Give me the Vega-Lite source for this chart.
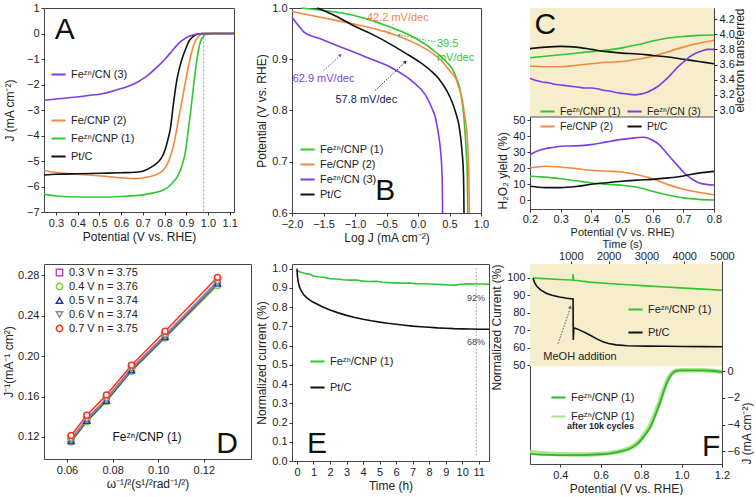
{
  "$schema": "https://vega.github.io/schema/vega-lite/v6.json",
  "padding": {"left": 2, "top": 1, "right": 0, "bottom": 0},
  "background": "white",
  "config": {
    "font": "Liberation Sans",
    "view": {"stroke": "#444", "strokeWidth": 1},
    "axis": {"grid": false, "domain": false, "tickSize": 3, "tickCount": 100, "tickColor": "#333", "labelFontSize": 11, "labelColor": "#222", "titleFontSize": 12, "titleFontWeight": "normal", "titleColor": "#222", "labelPadding": 2, "titlePadding": 3, "labelFlush": false, "labelOverlap": false, "labelBound": false, "labelFont": "Liberation Sans", "titleFont": "Liberation Sans"},
    "legend": {"labelFontSize": 11, "labelColor": "#222", "symbolType": "stroke", "symbolStrokeWidth": 2, "symbolSize": 200, "padding": 0, "rowPadding": 3, "labelFont": "Liberation Sans"},
    "text": {"font": "Liberation Sans"}
  },
  "datasets": {
    "A1": [
      {"x":0.245,"y":-2.62,"s":"Feᶻⁿ/CN (3)"},{"x":0.3,"y":-2.57,"s":"Feᶻⁿ/CN (3)"},{"x":0.358,"y":-2.52,"s":"Feᶻⁿ/CN (3)"},{"x":0.45,"y":-2.43,"s":"Feᶻⁿ/CN (3)"},{"x":0.512,"y":-2.36,"s":"Feᶻⁿ/CN (3)"},{"x":0.55,"y":-2.29,"s":"Feᶻⁿ/CN (3)"},{"x":0.589,"y":-2.19,"s":"Feᶻⁿ/CN (3)"},{"x":0.63,"y":-2.08,"s":"Feᶻⁿ/CN (3)"},{"x":0.666,"y":-1.95,"s":"Feᶻⁿ/CN (3)"},{"x":0.69,"y":-1.83,"s":"Feᶻⁿ/CN (3)"},{"x":0.712,"y":-1.71,"s":"Feᶻⁿ/CN (3)"},{"x":0.735,"y":-1.55,"s":"Feᶻⁿ/CN (3)"},{"x":0.758,"y":-1.38,"s":"Feᶻⁿ/CN (3)"},{"x":0.78,"y":-1.2,"s":"Feᶻⁿ/CN (3)"},{"x":0.804,"y":-0.99,"s":"Feᶻⁿ/CN (3)"},{"x":0.827,"y":-0.76,"s":"Feᶻⁿ/CN (3)"},{"x":0.85,"y":-0.53,"s":"Feᶻⁿ/CN (3)"},{"x":0.87,"y":-0.35,"s":"Feᶻⁿ/CN (3)"},{"x":0.888,"y":-0.23,"s":"Feᶻⁿ/CN (3)"},{"x":0.91,"y":-0.12,"s":"Feᶻⁿ/CN (3)"},{"x":0.927,"y":-0.07,"s":"Feᶻⁿ/CN (3)"},{"x":0.95,"y":-0.02,"s":"Feᶻⁿ/CN (3)"},{"x":0.973,"y":0,"s":"Feᶻⁿ/CN (3)"},{"x":1.12,"y":0,"s":"Feᶻⁿ/CN (3)"}
    ],
    "A2": [
      {"x":0.245,"y":-6.3,"s":"Feᶻⁿ/CNP (1)"},{"x":0.3,"y":-6.37,"s":"Feᶻⁿ/CNP (1)"},{"x":0.4,"y":-6.41,"s":"Feᶻⁿ/CNP (1)"},{"x":0.5,"y":-6.41,"s":"Feᶻⁿ/CNP (1)"},{"x":0.6,"y":-6.39,"s":"Feᶻⁿ/CNP (1)"},{"x":0.7,"y":-6.33,"s":"Feᶻⁿ/CNP (1)"},{"x":0.75,"y":-6.25,"s":"Feᶻⁿ/CNP (1)"},{"x":0.8,"y":-6.12,"s":"Feᶻⁿ/CNP (1)"},{"x":0.82,"y":-6.0,"s":"Feᶻⁿ/CNP (1)"},{"x":0.84,"y":-5.82,"s":"Feᶻⁿ/CNP (1)"},{"x":0.86,"y":-5.6,"s":"Feᶻⁿ/CNP (1)"},{"x":0.88,"y":-5.2,"s":"Feᶻⁿ/CNP (1)"},{"x":0.896,"y":-4.65,"s":"Feᶻⁿ/CNP (1)"},{"x":0.91,"y":-3.75,"s":"Feᶻⁿ/CNP (1)"},{"x":0.92,"y":-3.08,"s":"Feᶻⁿ/CNP (1)"},{"x":0.934,"y":-2.03,"s":"Feᶻⁿ/CNP (1)"},{"x":0.95,"y":-0.99,"s":"Feᶻⁿ/CNP (1)"},{"x":0.965,"y":-0.33,"s":"Feᶻⁿ/CNP (1)"},{"x":0.98,"y":-0.1,"s":"Feᶻⁿ/CNP (1)"},{"x":0.995,"y":-0.02,"s":"Feᶻⁿ/CNP (1)"},{"x":1.03,"y":0,"s":"Feᶻⁿ/CNP (1)"},{"x":1.12,"y":0,"s":"Feᶻⁿ/CNP (1)"},
      {"x":0.245,"y":-5.37,"s":"Fe/CNP (2)"},{"x":0.3,"y":-5.45,"s":"Fe/CNP (2)"},{"x":0.36,"y":-5.5,"s":"Fe/CNP (2)"},{"x":0.45,"y":-5.55,"s":"Fe/CNP (2)"},{"x":0.51,"y":-5.59,"s":"Fe/CNP (2)"},{"x":0.6,"y":-5.66,"s":"Fe/CNP (2)"},{"x":0.666,"y":-5.69,"s":"Fe/CNP (2)"},{"x":0.7,"y":-5.66,"s":"Fe/CNP (2)"},{"x":0.743,"y":-5.59,"s":"Fe/CNP (2)"},{"x":0.77,"y":-5.5,"s":"Fe/CNP (2)"},{"x":0.789,"y":-5.41,"s":"Fe/CNP (2)"},{"x":0.805,"y":-5.24,"s":"Fe/CNP (2)"},{"x":0.82,"y":-4.98,"s":"Fe/CNP (2)"},{"x":0.842,"y":-4.38,"s":"Fe/CNP (2)"},{"x":0.865,"y":-3.34,"s":"Fe/CNP (2)"},{"x":0.888,"y":-2.29,"s":"Fe/CNP (2)"},{"x":0.911,"y":-1.25,"s":"Fe/CNP (2)"},{"x":0.934,"y":-0.46,"s":"Fe/CNP (2)"},{"x":0.957,"y":-0.11,"s":"Fe/CNP (2)"},{"x":0.98,"y":-0.01,"s":"Fe/CNP (2)"},{"x":1.0,"y":0,"s":"Fe/CNP (2)"},{"x":1.12,"y":0,"s":"Fe/CNP (2)"},
      {"x":0.245,"y":-5.55,"s":"Pt/C"},{"x":0.3,"y":-5.52,"s":"Pt/C"},{"x":0.4,"y":-5.5,"s":"Pt/C"},{"x":0.512,"y":-5.48,"s":"Pt/C"},{"x":0.6,"y":-5.46,"s":"Pt/C"},{"x":0.666,"y":-5.44,"s":"Pt/C"},{"x":0.7,"y":-5.4,"s":"Pt/C"},{"x":0.727,"y":-5.3,"s":"Pt/C"},{"x":0.75,"y":-5.18,"s":"Pt/C"},{"x":0.773,"y":-5.02,"s":"Pt/C"},{"x":0.79,"y":-4.82,"s":"Pt/C"},{"x":0.804,"y":-4.52,"s":"Pt/C"},{"x":0.815,"y":-4.18,"s":"Pt/C"},{"x":0.827,"y":-3.73,"s":"Pt/C"},{"x":0.842,"y":-2.69,"s":"Pt/C"},{"x":0.858,"y":-1.77,"s":"Pt/C"},{"x":0.87,"y":-1.32,"s":"Pt/C"},{"x":0.881,"y":-0.99,"s":"Pt/C"},{"x":0.9,"y":-0.55,"s":"Pt/C"},{"x":0.911,"y":-0.33,"s":"Pt/C"},{"x":0.93,"y":-0.13,"s":"Pt/C"},{"x":0.942,"y":-0.06,"s":"Pt/C"},{"x":0.973,"y":0,"s":"Pt/C"},{"x":1.12,"y":0,"s":"Pt/C"}
    ],
    "B": [
      {"x":-1.85,"y":1.0,"s":"Feᶻⁿ/CNP (1)"},{"x":-1.5,"y":0.995,"s":"Feᶻⁿ/CNP (1)"},{"x":-1.03,"y":0.986,"s":"Feᶻⁿ/CNP (1)"},{"x":-0.6,"y":0.97,"s":"Feᶻⁿ/CNP (1)"},{"x":-0.24,"y":0.953,"s":"Feᶻⁿ/CNP (1)"},{"x":0.0,"y":0.938,"s":"Feᶻⁿ/CNP (1)"},{"x":0.28,"y":0.914,"s":"Feᶻⁿ/CNP (1)"},{"x":0.45,"y":0.895,"s":"Feᶻⁿ/CNP (1)"},{"x":0.54,"y":0.882,"s":"Feᶻⁿ/CNP (1)"},{"x":0.62,"y":0.86,"s":"Feᶻⁿ/CNP (1)"},{"x":0.66,"y":0.845,"s":"Feᶻⁿ/CNP (1)"},{"x":0.7,"y":0.817,"s":"Feᶻⁿ/CNP (1)"},{"x":0.73,"y":0.785,"s":"Feᶻⁿ/CNP (1)"},{"x":0.75,"y":0.752,"s":"Feᶻⁿ/CNP (1)"},{"x":0.77,"y":0.71,"s":"Feᶻⁿ/CNP (1)"},{"x":0.78,"y":0.686,"s":"Feᶻⁿ/CNP (1)"},{"x":0.785,"y":0.65,"s":"Feᶻⁿ/CNP (1)"},{"x":0.79,"y":0.6,"s":"Feᶻⁿ/CNP (1)"},
      {"x":-2.0,"y":0.993,"s":"Fe/CNP (2)"},{"x":-1.55,"y":0.982,"s":"Fe/CNP (2)"},{"x":-1.03,"y":0.969,"s":"Fe/CNP (2)"},{"x":-0.5,"y":0.953,"s":"Fe/CNP (2)"},{"x":0.02,"y":0.927,"s":"Fe/CNP (2)"},{"x":0.25,"y":0.91,"s":"Fe/CNP (2)"},{"x":0.39,"y":0.895,"s":"Fe/CNP (2)"},{"x":0.5,"y":0.878,"s":"Fe/CNP (2)"},{"x":0.6,"y":0.862,"s":"Fe/CNP (2)"},{"x":0.66,"y":0.84,"s":"Fe/CNP (2)"},{"x":0.7,"y":0.823,"s":"Fe/CNP (2)"},{"x":0.74,"y":0.79,"s":"Fe/CNP (2)"},{"x":0.78,"y":0.752,"s":"Fe/CNP (2)"},{"x":0.8,"y":0.7,"s":"Fe/CNP (2)"},{"x":0.81,"y":0.65,"s":"Fe/CNP (2)"},{"x":0.815,"y":0.6,"s":"Fe/CNP (2)"},
      {"x":-2.0,"y":0.982,"s":"Feᶻⁿ/CN (3)"},{"x":-1.9,"y":0.966,"s":"Feᶻⁿ/CN (3)"},{"x":-1.81,"y":0.953,"s":"Feᶻⁿ/CN (3)"},{"x":-1.55,"y":0.94,"s":"Feᶻⁿ/CN (3)"},{"x":-1.29,"y":0.927,"s":"Feᶻⁿ/CN (3)"},{"x":-1.0,"y":0.913,"s":"Feᶻⁿ/CN (3)"},{"x":-0.76,"y":0.901,"s":"Feᶻⁿ/CN (3)"},{"x":-0.4,"y":0.882,"s":"Feᶻⁿ/CN (3)"},{"x":-0.08,"y":0.856,"s":"Feᶻⁿ/CN (3)"},{"x":0.12,"y":0.83,"s":"Feᶻⁿ/CN (3)"},{"x":0.22,"y":0.805,"s":"Feᶻⁿ/CN (3)"},{"x":0.28,"y":0.784,"s":"Feᶻⁿ/CN (3)"},{"x":0.33,"y":0.75,"s":"Feᶻⁿ/CN (3)"},{"x":0.36,"y":0.719,"s":"Feᶻⁿ/CN (3)"},{"x":0.38,"y":0.68,"s":"Feᶻⁿ/CN (3)"},{"x":0.386,"y":0.654,"s":"Feᶻⁿ/CN (3)"},{"x":0.39,"y":0.6,"s":"Feᶻⁿ/CN (3)"},
      {"x":-1.6,"y":1.0,"s":"Pt/C"},{"x":-1.3,"y":0.984,"s":"Pt/C"},{"x":-1.03,"y":0.966,"s":"Pt/C"},{"x":-0.75,"y":0.95,"s":"Pt/C"},{"x":-0.5,"y":0.934,"s":"Pt/C"},{"x":-0.2,"y":0.912,"s":"Pt/C"},{"x":0.02,"y":0.895,"s":"Pt/C"},{"x":0.2,"y":0.878,"s":"Pt/C"},{"x":0.33,"y":0.862,"s":"Pt/C"},{"x":0.45,"y":0.84,"s":"Pt/C"},{"x":0.54,"y":0.817,"s":"Pt/C"},{"x":0.6,"y":0.795,"s":"Pt/C"},{"x":0.65,"y":0.771,"s":"Pt/C"},{"x":0.7,"y":0.719,"s":"Pt/C"},{"x":0.72,"y":0.68,"s":"Pt/C"},{"x":0.727,"y":0.64,"s":"Pt/C"},{"x":0.73,"y":0.6,"s":"Pt/C"}
    ],
    "Cu": [
      {"x":0.2,"y":3.69,"s":"Feᶻⁿ/CNP (1)"},{"x":0.25,"y":3.71,"s":"Feᶻⁿ/CNP (1)"},{"x":0.3,"y":3.73,"s":"Feᶻⁿ/CNP (1)"},{"x":0.35,"y":3.75,"s":"Feᶻⁿ/CNP (1)"},{"x":0.4,"y":3.77,"s":"Feᶻⁿ/CNP (1)"},{"x":0.45,"y":3.79,"s":"Feᶻⁿ/CNP (1)"},{"x":0.5,"y":3.82,"s":"Feᶻⁿ/CNP (1)"},{"x":0.55,"y":3.86,"s":"Feᶻⁿ/CNP (1)"},{"x":0.6,"y":3.91,"s":"Feᶻⁿ/CNP (1)"},{"x":0.65,"y":3.95,"s":"Feᶻⁿ/CNP (1)"},{"x":0.7,"y":3.97,"s":"Feᶻⁿ/CNP (1)"},{"x":0.75,"y":3.985,"s":"Feᶻⁿ/CNP (1)"},{"x":0.8,"y":3.99,"s":"Feᶻⁿ/CNP (1)"},
      {"x":0.2,"y":3.58,"s":"Fe/CNP (2)"},{"x":0.25,"y":3.57,"s":"Fe/CNP (2)"},{"x":0.3,"y":3.57,"s":"Fe/CNP (2)"},{"x":0.35,"y":3.59,"s":"Fe/CNP (2)"},{"x":0.4,"y":3.61,"s":"Fe/CNP (2)"},{"x":0.45,"y":3.63,"s":"Fe/CNP (2)"},{"x":0.5,"y":3.64,"s":"Fe/CNP (2)"},{"x":0.55,"y":3.67,"s":"Fe/CNP (2)"},{"x":0.6,"y":3.71,"s":"Fe/CNP (2)"},{"x":0.65,"y":3.77,"s":"Fe/CNP (2)"},{"x":0.7,"y":3.83,"s":"Fe/CNP (2)"},{"x":0.75,"y":3.88,"s":"Fe/CNP (2)"},{"x":0.8,"y":3.92,"s":"Fe/CNP (2)"},
      {"x":0.2,"y":3.81,"s":"Pt/C"},{"x":0.25,"y":3.83,"s":"Pt/C"},{"x":0.3,"y":3.84,"s":"Pt/C"},{"x":0.35,"y":3.83,"s":"Pt/C"},{"x":0.4,"y":3.8,"s":"Pt/C"},{"x":0.45,"y":3.77,"s":"Pt/C"},{"x":0.5,"y":3.75,"s":"Pt/C"},{"x":0.55,"y":3.74,"s":"Pt/C"},{"x":0.6,"y":3.72,"s":"Pt/C"},{"x":0.65,"y":3.7,"s":"Pt/C"},{"x":0.7,"y":3.67,"s":"Pt/C"},{"x":0.75,"y":3.64,"s":"Pt/C"},{"x":0.8,"y":3.61,"s":"Pt/C"},
      {"x":0.2,"y":3.42,"s":"Feᶻⁿ/CN (3)"},{"x":0.22,"y":3.39,"s":"Feᶻⁿ/CN (3)"},{"x":0.24,"y":3.37,"s":"Feᶻⁿ/CN (3)"},{"x":0.26,"y":3.36,"s":"Feᶻⁿ/CN (3)"},{"x":0.28,"y":3.34,"s":"Feᶻⁿ/CN (3)"},{"x":0.3,"y":3.33,"s":"Feᶻⁿ/CN (3)"},{"x":0.32,"y":3.32,"s":"Feᶻⁿ/CN (3)"},{"x":0.34,"y":3.31,"s":"Feᶻⁿ/CN (3)"},{"x":0.36,"y":3.3,"s":"Feᶻⁿ/CN (3)"},{"x":0.38,"y":3.29,"s":"Feᶻⁿ/CN (3)"},{"x":0.4,"y":3.29,"s":"Feᶻⁿ/CN (3)"},{"x":0.42,"y":3.28,"s":"Feᶻⁿ/CN (3)"},{"x":0.44,"y":3.26,"s":"Feᶻⁿ/CN (3)"},{"x":0.46,"y":3.25,"s":"Feᶻⁿ/CN (3)"},{"x":0.48,"y":3.23,"s":"Feᶻⁿ/CN (3)"},{"x":0.5,"y":3.22,"s":"Feᶻⁿ/CN (3)"},{"x":0.52,"y":3.21,"s":"Feᶻⁿ/CN (3)"},{"x":0.54,"y":3.2,"s":"Feᶻⁿ/CN (3)"},{"x":0.56,"y":3.21,"s":"Feᶻⁿ/CN (3)"},{"x":0.58,"y":3.23,"s":"Feᶻⁿ/CN (3)"},{"x":0.6,"y":3.27,"s":"Feᶻⁿ/CN (3)"},{"x":0.62,"y":3.32,"s":"Feᶻⁿ/CN (3)"},{"x":0.64,"y":3.39,"s":"Feᶻⁿ/CN (3)"},{"x":0.66,"y":3.47,"s":"Feᶻⁿ/CN (3)"},{"x":0.68,"y":3.56,"s":"Feᶻⁿ/CN (3)"},{"x":0.7,"y":3.63,"s":"Feᶻⁿ/CN (3)"},{"x":0.72,"y":3.7,"s":"Feᶻⁿ/CN (3)"},{"x":0.74,"y":3.75,"s":"Feᶻⁿ/CN (3)"},{"x":0.76,"y":3.78,"s":"Feᶻⁿ/CN (3)"},{"x":0.78,"y":3.8,"s":"Feᶻⁿ/CN (3)"},{"x":0.8,"y":3.8,"s":"Feᶻⁿ/CN (3)"}
    ],
    "Cl": [
      {"x":0.2,"y":28.5,"s":"Feᶻⁿ/CN (3)"},{"x":0.22,"y":30.5,"s":"Feᶻⁿ/CN (3)"},{"x":0.25,"y":32.3,"s":"Feᶻⁿ/CN (3)"},{"x":0.28,"y":33.2,"s":"Feᶻⁿ/CN (3)"},{"x":0.3,"y":33.8,"s":"Feᶻⁿ/CN (3)"},{"x":0.35,"y":34.0,"s":"Feᶻⁿ/CN (3)"},{"x":0.4,"y":34.8,"s":"Feᶻⁿ/CN (3)"},{"x":0.45,"y":36.5,"s":"Feᶻⁿ/CN (3)"},{"x":0.5,"y":38.1,"s":"Feᶻⁿ/CN (3)"},{"x":0.55,"y":39.2,"s":"Feᶻⁿ/CN (3)"},{"x":0.57,"y":39.4,"s":"Feᶻⁿ/CN (3)"},{"x":0.6,"y":37.5,"s":"Feᶻⁿ/CN (3)"},{"x":0.62,"y":35.0,"s":"Feᶻⁿ/CN (3)"},{"x":0.65,"y":28.5,"s":"Feᶻⁿ/CN (3)"},{"x":0.68,"y":22.0,"s":"Feᶻⁿ/CN (3)"},{"x":0.7,"y":17.7,"s":"Feᶻⁿ/CN (3)"},{"x":0.73,"y":13.0,"s":"Feᶻⁿ/CN (3)"},{"x":0.75,"y":11.0,"s":"Feᶻⁿ/CN (3)"},{"x":0.78,"y":9.8,"s":"Feᶻⁿ/CN (3)"},{"x":0.8,"y":9.6,"s":"Feᶻⁿ/CN (3)"},
      {"x":0.2,"y":20.2,"s":"Fe/CNP (2)"},{"x":0.25,"y":21.3,"s":"Fe/CNP (2)"},{"x":0.3,"y":20.8,"s":"Fe/CNP (2)"},{"x":0.35,"y":19.8,"s":"Fe/CNP (2)"},{"x":0.4,"y":18.8,"s":"Fe/CNP (2)"},{"x":0.45,"y":18.2,"s":"Fe/CNP (2)"},{"x":0.5,"y":17.7,"s":"Fe/CNP (2)"},{"x":0.55,"y":16.0,"s":"Fe/CNP (2)"},{"x":0.6,"y":13.5,"s":"Fe/CNP (2)"},{"x":0.65,"y":9.8,"s":"Fe/CNP (2)"},{"x":0.7,"y":6.9,"s":"Fe/CNP (2)"},{"x":0.75,"y":5.0,"s":"Fe/CNP (2)"},{"x":0.8,"y":3.5,"s":"Fe/CNP (2)"},
      {"x":0.2,"y":15.0,"s":"Feᶻⁿ/CNP (1)"},{"x":0.25,"y":14.5,"s":"Feᶻⁿ/CNP (1)"},{"x":0.3,"y":13.5,"s":"Feᶻⁿ/CNP (1)"},{"x":0.35,"y":12.2,"s":"Feᶻⁿ/CNP (1)"},{"x":0.4,"y":10.8,"s":"Feᶻⁿ/CNP (1)"},{"x":0.45,"y":10.0,"s":"Feᶻⁿ/CNP (1)"},{"x":0.5,"y":9.4,"s":"Feᶻⁿ/CNP (1)"},{"x":0.55,"y":8.1,"s":"Feᶻⁿ/CNP (1)"},{"x":0.6,"y":5.6,"s":"Feᶻⁿ/CNP (1)"},{"x":0.65,"y":3.3,"s":"Feᶻⁿ/CNP (1)"},{"x":0.7,"y":1.5,"s":"Feᶻⁿ/CNP (1)"},{"x":0.75,"y":0.6,"s":"Feᶻⁿ/CNP (1)"},{"x":0.8,"y":0.2,"s":"Feᶻⁿ/CNP (1)"},
      {"x":0.2,"y":8.75,"s":"Pt/C"},{"x":0.25,"y":7.9,"s":"Pt/C"},{"x":0.3,"y":7.9,"s":"Pt/C"},{"x":0.35,"y":8.6,"s":"Pt/C"},{"x":0.4,"y":10.0,"s":"Pt/C"},{"x":0.45,"y":11.0,"s":"Pt/C"},{"x":0.5,"y":11.9,"s":"Pt/C"},{"x":0.55,"y":12.6,"s":"Pt/C"},{"x":0.6,"y":13.1,"s":"Pt/C"},{"x":0.65,"y":14.0,"s":"Pt/C"},{"x":0.7,"y":15.2,"s":"Pt/C"},{"x":0.75,"y":17.0,"s":"Pt/C"},{"x":0.8,"y":18.1,"s":"Pt/C"}
    ],
    "D": [
      {"x":0.0618,"y":0.118,"s":"0.3 V   n = 3.75"},{"x":0.0687,"y":0.138,"s":"0.3 V   n = 3.75"},{"x":0.0773,"y":0.158,"s":"0.3 V   n = 3.75"},{"x":0.0883,"y":0.188,"s":"0.3 V   n = 3.75"},{"x":0.103,"y":0.221,"s":"0.3 V   n = 3.75"},{"x":0.126,"y":0.274,"s":"0.3 V   n = 3.75"},
      {"x":0.0618,"y":0.115,"s":"0.4 V   n = 3.76"},{"x":0.0687,"y":0.135,"s":"0.4 V   n = 3.76"},{"x":0.0773,"y":0.155,"s":"0.4 V   n = 3.76"},{"x":0.0883,"y":0.185,"s":"0.4 V   n = 3.76"},{"x":0.103,"y":0.218,"s":"0.4 V   n = 3.76"},{"x":0.126,"y":0.27,"s":"0.4 V   n = 3.76"},
      {"x":0.0618,"y":0.116,"s":"0.5 V   n = 3.74"},{"x":0.0687,"y":0.136,"s":"0.5 V   n = 3.74"},{"x":0.0773,"y":0.156,"s":"0.5 V   n = 3.74"},{"x":0.0883,"y":0.186,"s":"0.5 V   n = 3.74"},{"x":0.103,"y":0.219,"s":"0.5 V   n = 3.74"},{"x":0.126,"y":0.272,"s":"0.5 V   n = 3.74"},
      {"x":0.0618,"y":0.117,"s":"0.6 V   n = 3.74"},{"x":0.0687,"y":0.137,"s":"0.6 V   n = 3.74"},{"x":0.0773,"y":0.157,"s":"0.6 V   n = 3.74"},{"x":0.0883,"y":0.187,"s":"0.6 V   n = 3.74"},{"x":0.103,"y":0.22,"s":"0.6 V   n = 3.74"},{"x":0.126,"y":0.273,"s":"0.6 V   n = 3.74"},
      {"x":0.0618,"y":0.1215,"s":"0.7 V   n = 3.75"},{"x":0.0687,"y":0.1415,"s":"0.7 V   n = 3.75"},{"x":0.0773,"y":0.1615,"s":"0.7 V   n = 3.75"},{"x":0.0883,"y":0.191,"s":"0.7 V   n = 3.75"},{"x":0.103,"y":0.2247,"s":"0.7 V   n = 3.75"},{"x":0.126,"y":0.278,"s":"0.7 V   n = 3.75"}
    ],
    "E": [
      {"x":0,"y":0.99,"s":"Feᶻⁿ/CNP (1)"},{"x":0.2,"y":0.982,"s":"Feᶻⁿ/CNP (1)"},{"x":0.5,"y":0.975,"s":"Feᶻⁿ/CNP (1)"},{"x":0.8,"y":0.97,"s":"Feᶻⁿ/CNP (1)"},{"x":1.0,"y":0.962,"s":"Feᶻⁿ/CNP (1)"},{"x":1.3,"y":0.958,"s":"Feᶻⁿ/CNP (1)"},{"x":1.6,"y":0.955,"s":"Feᶻⁿ/CNP (1)"},{"x":2.0,"y":0.948,"s":"Feᶻⁿ/CNP (1)"},{"x":2.4,"y":0.946,"s":"Feᶻⁿ/CNP (1)"},{"x":2.8,"y":0.942,"s":"Feᶻⁿ/CNP (1)"},{"x":3.2,"y":0.94,"s":"Feᶻⁿ/CNP (1)"},{"x":3.6,"y":0.941,"s":"Feᶻⁿ/CNP (1)"},{"x":4.0,"y":0.935,"s":"Feᶻⁿ/CNP (1)"},{"x":4.4,"y":0.933,"s":"Feᶻⁿ/CNP (1)"},{"x":4.8,"y":0.934,"s":"Feᶻⁿ/CNP (1)"},{"x":5.2,"y":0.929,"s":"Feᶻⁿ/CNP (1)"},{"x":5.6,"y":0.927,"s":"Feᶻⁿ/CNP (1)"},{"x":6.0,"y":0.926,"s":"Feᶻⁿ/CNP (1)"},{"x":6.4,"y":0.924,"s":"Feᶻⁿ/CNP (1)"},{"x":6.8,"y":0.925,"s":"Feᶻⁿ/CNP (1)"},{"x":7.2,"y":0.922,"s":"Feᶻⁿ/CNP (1)"},{"x":7.6,"y":0.921,"s":"Feᶻⁿ/CNP (1)"},{"x":8.0,"y":0.92,"s":"Feᶻⁿ/CNP (1)"},{"x":8.4,"y":0.919,"s":"Feᶻⁿ/CNP (1)"},{"x":8.8,"y":0.917,"s":"Feᶻⁿ/CNP (1)"},{"x":9.2,"y":0.915,"s":"Feᶻⁿ/CNP (1)"},{"x":9.6,"y":0.914,"s":"Feᶻⁿ/CNP (1)"},{"x":10.0,"y":0.92,"s":"Feᶻⁿ/CNP (1)"},{"x":10.4,"y":0.921,"s":"Feᶻⁿ/CNP (1)"},{"x":10.8,"y":0.92,"s":"Feᶻⁿ/CNP (1)"},{"x":11.2,"y":0.92,"s":"Feᶻⁿ/CNP (1)"},{"x":11.62,"y":0.918,"s":"Feᶻⁿ/CNP (1)"},
      {"x":0,"y":1.0,"s":"Pt/C"},{"x":0.03,"y":0.96,"s":"Pt/C"},{"x":0.08,"y":0.93,"s":"Pt/C"},{"x":0.15,"y":0.905,"s":"Pt/C"},{"x":0.25,"y":0.885,"s":"Pt/C"},{"x":0.4,"y":0.865,"s":"Pt/C"},{"x":0.6,"y":0.848,"s":"Pt/C"},{"x":0.8,"y":0.835,"s":"Pt/C"},{"x":1.0,"y":0.825,"s":"Pt/C"},{"x":1.5,"y":0.803,"s":"Pt/C"},{"x":2.0,"y":0.785,"s":"Pt/C"},{"x":2.5,"y":0.77,"s":"Pt/C"},{"x":3.0,"y":0.757,"s":"Pt/C"},{"x":3.5,"y":0.746,"s":"Pt/C"},{"x":4.0,"y":0.737,"s":"Pt/C"},{"x":4.5,"y":0.729,"s":"Pt/C"},{"x":5.0,"y":0.722,"s":"Pt/C"},{"x":5.5,"y":0.716,"s":"Pt/C"},{"x":6.0,"y":0.711,"s":"Pt/C"},{"x":6.5,"y":0.706,"s":"Pt/C"},{"x":7.0,"y":0.701,"s":"Pt/C"},{"x":7.5,"y":0.698,"s":"Pt/C"},{"x":8.0,"y":0.695,"s":"Pt/C"},{"x":8.5,"y":0.692,"s":"Pt/C"},{"x":9.0,"y":0.69,"s":"Pt/C"},{"x":9.5,"y":0.688,"s":"Pt/C"},{"x":10.0,"y":0.687,"s":"Pt/C"},{"x":10.5,"y":0.686,"s":"Pt/C"},{"x":11.0,"y":0.685,"s":"Pt/C"},{"x":11.62,"y":0.685,"s":"Pt/C"}
    ],
    "Fu": [
      {"t":0,"y":100,"s":"Feᶻⁿ/CNP (1)"},{"t":300,"y":99.6,"s":"Feᶻⁿ/CNP (1)"},{"t":700,"y":99.1,"s":"Feᶻⁿ/CNP (1)"},{"t":1000,"y":98.8,"s":"Feᶻⁿ/CNP (1)"},{"t":1050,"y":98.7,"s":"Feᶻⁿ/CNP (1)"},{"t":1060,"y":102.3,"s":"Feᶻⁿ/CNP (1)"},{"t":1075,"y":98.8,"s":"Feᶻⁿ/CNP (1)"},{"t":1100,"y":98.7,"s":"Feᶻⁿ/CNP (1)"},{"t":1500,"y":97.6,"s":"Feᶻⁿ/CNP (1)"},{"t":2000,"y":96.8,"s":"Feᶻⁿ/CNP (1)"},{"t":2500,"y":96.1,"s":"Feᶻⁿ/CNP (1)"},{"t":3000,"y":95.5,"s":"Feᶻⁿ/CNP (1)"},{"t":3500,"y":94.8,"s":"Feᶻⁿ/CNP (1)"},{"t":4000,"y":94.2,"s":"Feᶻⁿ/CNP (1)"},{"t":4500,"y":93.6,"s":"Feᶻⁿ/CNP (1)"},{"t":5000,"y":93.0,"s":"Feᶻⁿ/CNP (1)"},
      {"t":0,"y":100,"s":"Pt/C"},{"t":40,"y":97.5,"s":"Pt/C"},{"t":100,"y":95.2,"s":"Pt/C"},{"t":200,"y":93.2,"s":"Pt/C"},{"t":350,"y":91.3,"s":"Pt/C"},{"t":500,"y":90.1,"s":"Pt/C"},{"t":700,"y":89.1,"s":"Pt/C"},{"t":900,"y":88.4,"s":"Pt/C"},{"t":1060,"y":88.0,"s":"Pt/C"},{"t":1065,"y":64.5,"s":"Pt/C"},{"t":1080,"y":71.5,"s":"Pt/C"},{"t":1150,"y":71.0,"s":"Pt/C"},{"t":1250,"y":70.0,"s":"Pt/C"},{"t":1400,"y":68.5,"s":"Pt/C"},{"t":1550,"y":66.8,"s":"Pt/C"},{"t":1700,"y":65.0,"s":"Pt/C"},{"t":1850,"y":63.5,"s":"Pt/C"},{"t":2000,"y":62.5,"s":"Pt/C"},{"t":2200,"y":61.7,"s":"Pt/C"},{"t":2500,"y":61.2,"s":"Pt/C"},{"t":3000,"y":61.0,"s":"Pt/C"},{"t":3500,"y":60.9,"s":"Pt/C"},{"t":4000,"y":60.8,"s":"Pt/C"},{"t":4500,"y":60.7,"s":"Pt/C"},{"t":5000,"y":60.6,"s":"Pt/C"}
    ],
    "Fl": [
      {"x":0.25,"y":-6.05,"s":"Feᶻⁿ/CNP (1) after"},{"x":0.3,"y":-6.15,"s":"Feᶻⁿ/CNP (1) after"},{"x":0.4,"y":-6.22,"s":"Feᶻⁿ/CNP (1) after"},{"x":0.5,"y":-6.24,"s":"Feᶻⁿ/CNP (1) after"},{"x":0.6,"y":-6.2,"s":"Feᶻⁿ/CNP (1) after"},{"x":0.65,"y":-6.12,"s":"Feᶻⁿ/CNP (1) after"},{"x":0.7,"y":-5.98,"s":"Feᶻⁿ/CNP (1) after"},{"x":0.75,"y":-5.72,"s":"Feᶻⁿ/CNP (1) after"},{"x":0.78,"y":-5.4,"s":"Feᶻⁿ/CNP (1) after"},{"x":0.8,"y":-5.08,"s":"Feᶻⁿ/CNP (1) after"},{"x":0.82,"y":-4.65,"s":"Feᶻⁿ/CNP (1) after"},{"x":0.845,"y":-4.05,"s":"Feᶻⁿ/CNP (1) after"},{"x":0.87,"y":-3.15,"s":"Feᶻⁿ/CNP (1) after"},{"x":0.895,"y":-2.15,"s":"Feᶻⁿ/CNP (1) after"},{"x":0.91,"y":-1.45,"s":"Feᶻⁿ/CNP (1) after"},{"x":0.93,"y":-0.7,"s":"Feᶻⁿ/CNP (1) after"},{"x":0.945,"y":-0.3,"s":"Feᶻⁿ/CNP (1) after"},{"x":0.96,"y":-0.08,"s":"Feᶻⁿ/CNP (1) after"},{"x":0.975,"y":0.03,"s":"Feᶻⁿ/CNP (1) after"},{"x":1.0,"y":0.06,"s":"Feᶻⁿ/CNP (1) after"},{"x":1.1,"y":0.05,"s":"Feᶻⁿ/CNP (1) after"},{"x":1.15,"y":0.02,"s":"Feᶻⁿ/CNP (1) after"},{"x":1.2,"y":-0.07,"s":"Feᶻⁿ/CNP (1) after"},
      {"x":0.25,"y":-6.2,"s":"Feᶻⁿ/CNP (1)"},{"x":0.3,"y":-6.25,"s":"Feᶻⁿ/CNP (1)"},{"x":0.4,"y":-6.28,"s":"Feᶻⁿ/CNP (1)"},{"x":0.5,"y":-6.28,"s":"Feᶻⁿ/CNP (1)"},{"x":0.6,"y":-6.22,"s":"Feᶻⁿ/CNP (1)"},{"x":0.65,"y":-6.15,"s":"Feᶻⁿ/CNP (1)"},{"x":0.7,"y":-6.0,"s":"Feᶻⁿ/CNP (1)"},{"x":0.75,"y":-5.75,"s":"Feᶻⁿ/CNP (1)"},{"x":0.78,"y":-5.45,"s":"Feᶻⁿ/CNP (1)"},{"x":0.8,"y":-5.15,"s":"Feᶻⁿ/CNP (1)"},{"x":0.82,"y":-4.75,"s":"Feᶻⁿ/CNP (1)"},{"x":0.845,"y":-4.2,"s":"Feᶻⁿ/CNP (1)"},{"x":0.87,"y":-3.3,"s":"Feᶻⁿ/CNP (1)"},{"x":0.895,"y":-2.3,"s":"Feᶻⁿ/CNP (1)"},{"x":0.91,"y":-1.6,"s":"Feᶻⁿ/CNP (1)"},{"x":0.93,"y":-0.8,"s":"Feᶻⁿ/CNP (1)"},{"x":0.945,"y":-0.35,"s":"Feᶻⁿ/CNP (1)"},{"x":0.96,"y":-0.1,"s":"Feᶻⁿ/CNP (1)"},{"x":0.975,"y":0.02,"s":"Feᶻⁿ/CNP (1)"},{"x":1.0,"y":0.05,"s":"Feᶻⁿ/CNP (1)"},{"x":1.1,"y":0.05,"s":"Feᶻⁿ/CNP (1)"},{"x":1.15,"y":0.02,"s":"Feᶻⁿ/CNP (1)"},{"x":1.2,"y":-0.08,"s":"Feᶻⁿ/CNP (1)"}
    ]
  },
  "concat": [
    {
      "width": 190, "height": 204,
      "layer": [
        {"data": {"values": [{}]}, "mark": {"type": "rule", "color": "#999", "strokeDash": [2, 2], "strokeWidth": 1},
         "encoding": {
           "x": {"datum": 0.98, "type": "quantitative", "scale": {"domain": [0.245, 1.12], "nice": false, "zero": false}, "axis": {"values": [0.3,0.4,0.5,0.6,0.7,0.8,0.9,1.0,1.1], "format": ".1f", "title": "Potential (V vs. RHE)"}},
           "y": {"datum": 0, "type": "quantitative", "scale": {"domain": [-7, 1], "nice": false, "zero": false}, "axis": {"values": [-7,-6,-5,-4,-3,-2,-1,0,1], "format": "d", "title": "J (mA cm⁻²)", "titlePadding": 10}},
           "y2": {"datum": -7}}},
        {"data": {"name": "A2"}, "mark": {"type": "line", "interpolate": "monotone", "strokeWidth": 1.6},
         "encoding": {"x": {"field": "x", "type": "quantitative"}, "y": {"field": "y", "type": "quantitative"},
           "color": {"field": "s", "type": "nominal", "scale": {"domain": ["Fe/CNP (2)", "Feᶻⁿ/CNP (1)", "Pt/C"], "range": ["#f7873f", "#2fc62f", "#111111"]}, "legend": {"title": null, "orient": "none", "legendX": 6, "legendY": 104, "rowPadding": 4}}}},
        {"data": {"name": "A1"}, "mark": {"type": "line", "interpolate": "monotone", "strokeWidth": 1.6},
         "encoding": {"x": {"field": "x", "type": "quantitative"}, "y": {"field": "y", "type": "quantitative"},
           "stroke": {"field": "s", "type": "nominal", "scale": {"domain": ["Feᶻⁿ/CN (3)"], "range": ["#7b3fe4"]}, "legend": {"title": null, "orient": "none", "legendX": 6, "legendY": 58}}}},
        {"data": {"values": [{}]}, "mark": {"type": "text", "text": "A", "fontSize": 30, "color": "#111"},
         "encoding": {"x": {"datum": 0.34}, "y": {"datum": 0.14}}}
      ]
    },
    {
      "width": 189, "height": 205,
      "layer": [
        {"data": {"name": "B"}, "mark": {"type": "line", "interpolate": "monotone", "strokeWidth": 1.6},
         "encoding": {
           "x": {"field": "x", "type": "quantitative", "scale": {"domain": [-2, 1], "nice": false, "zero": false}, "axis": {"values": [-2,-1.5,-1,-0.5,0,0.5,1], "format": ".1f", "title": "Log J (mA cm⁻²)"}},
           "y": {"field": "y", "type": "quantitative", "scale": {"domain": [0.6, 1.0], "nice": false, "zero": false}, "axis": {"values": [0.6,0.7,0.8,0.9,1.0], "format": ".1f", "title": "Potential (V vs. RHE)"}},
           "color": {"field": "s", "type": "nominal", "scale": {"domain": ["Feᶻⁿ/CNP (1)", "Fe/CNP (2)", "Feᶻⁿ/CN (3)", "Pt/C"], "range": ["#2fc62f", "#f7873f", "#7b3fe4", "#111111"]}, "legend": {"title": null, "orient": "none", "legendX": 7, "legendY": 133, "rowPadding": 1}}}},
        {"data": {"values": [{}]}, "mark": {"type": "text", "text": "42.2 mV/dec", "fontSize": 11, "color": "#f7873f"}, "encoding": {"x": {"datum": -0.32}, "y": {"datum": 0.981}}},
        {"data": {"values": [{}]}, "mark": {"type": "text", "text": ["39.5", "mV/dec"], "fontSize": 11, "color": "#2fc62f", "align": "left", "lineHeight": 14}, "encoding": {"x": {"datum": 0.3}, "y": {"datum": 0.93}}},
        {"data": {"values": [{}]}, "mark": {"type": "text", "text": "62.9 mV/dec", "fontSize": 11, "color": "#7b3fe4"}, "encoding": {"x": {"datum": -1.5}, "y": {"datum": 0.862}}},
        {"data": {"values": [{}]}, "mark": {"type": "text", "text": "57.8 mV/dec", "fontSize": 11, "color": "#1c1c50"}, "encoding": {"x": {"datum": -0.82}, "y": {"datum": 0.82}}},
        {"data": {"values": [{}]}, "mark": {"type": "rule", "color": "#f7873f", "strokeDash": [1.5, 1.5]}, "encoding": {"x": {"datum": -0.39}, "y": {"datum": 0.969}, "x2": {"datum": -0.455}, "y2": {"datum": 0.953}}},
        {"data": {"values": [{}]}, "mark": {"type": "point", "shape": "triangle-up", "filled": true, "size": 14, "angle": 207, "color": "#f7873f", "opacity": 1}, "encoding": {"x": {"datum": -0.465}, "y": {"datum": 0.95}}},
        {"data": {"values": [{}]}, "mark": {"type": "rule", "color": "#2fc62f", "strokeDash": [1.5, 1.5]}, "encoding": {"x": {"datum": 0.275}, "y": {"datum": 0.934}, "x2": {"datum": -0.29}, "y2": {"datum": 0.947}}},
        {"data": {"values": [{}]}, "mark": {"type": "point", "shape": "triangle-up", "filled": true, "size": 14, "angle": 280, "color": "#2fc62f", "opacity": 1}, "encoding": {"x": {"datum": -0.306}, "y": {"datum": 0.947}}},
        {"data": {"values": [{}]}, "mark": {"type": "rule", "color": "#7b3fe4", "strokeDash": [1.5, 1.5]}, "encoding": {"x": {"datum": -1.497}, "y": {"datum": 0.878}, "x2": {"datum": -1.245}, "y2": {"datum": 0.906}}},
        {"data": {"values": [{}]}, "mark": {"type": "point", "shape": "triangle-up", "filled": true, "size": 14, "angle": 48, "color": "#7b3fe4", "opacity": 1}, "encoding": {"x": {"datum": -1.233}, "y": {"datum": 0.908}}},
        {"data": {"values": [{}]}, "mark": {"type": "rule", "color": "#222", "strokeDash": [1.5, 1.5]}, "encoding": {"x": {"datum": -0.68}, "y": {"datum": 0.839}, "x2": {"datum": -0.215}, "y2": {"datum": 0.893}}},
        {"data": {"values": [{}]}, "mark": {"type": "point", "shape": "triangle-up", "filled": true, "size": 14, "angle": 47, "color": "#222", "opacity": 1}, "encoding": {"x": {"datum": -0.2}, "y": {"datum": 0.895}}},
        {"data": {"values": [{}]}, "mark": {"type": "text", "text": "B", "fontSize": 30, "color": "#111"}, "encoding": {"x": {"datum": -0.52}, "y": {"datum": 0.642}}}
      ]
    },
    {
      "width": 184, "height": 201,
      "layer": [
        {
          "layer": [
            {"data": {"values": [{}]}, "mark": {"type": "rect", "color": "#f6edcc"},
             "encoding": {
               "x": {"datum": 0.2, "type": "quantitative", "scale": {"domain": [0.2, 0.8], "nice": false, "zero": false}, "axis": {"values": [0.2,0.3,0.4,0.5,0.6,0.7,0.8], "format": ".1f", "labelPadding": 1, "title": ["Potential (V vs. RHE)", "Time (s)"], "titleFontSize": 11, "titleLineHeight": 12, "titlePadding": 2}},
               "x2": {"datum": 0.8},
               "y": {"datum": 2.908, "type": "quantitative", "scale": {"domain": [1.694, 4.346], "nice": false, "zero": false}, "axis": {"orient": "right", "values": [3.0,3.2,3.4,3.6,3.8,4.0,4.2], "format": ".1f", "title": "electron transferred", "titleAnchor": "end", "titleAngle": -90, "titleBaseline": "top", "titlePadding": 0}},
               "y2": {"datum": 4.346}}},
            {"data": {"values": [{}]}, "mark": {"type": "rule", "color": "#555", "strokeWidth": 1}, "encoding": {"y": {"datum": 2.908}}},
            {"data": {"name": "Cu"}, "mark": {"type": "line", "interpolate": "monotone", "strokeWidth": 1.6},
             "encoding": {"x": {"field": "x", "type": "quantitative"}, "y": {"field": "y", "type": "quantitative"},
               "color": {"field": "s", "type": "nominal", "scale": {"domain": ["Feᶻⁿ/CNP (1)", "Fe/CNP (2)", "Feᶻⁿ/CN (3)", "Pt/C"], "range": ["#2fc62f", "#f7873f", "#7b3fe4", "#111111"]}, "legend": {"title": null, "orient": "none", "legendX": 9, "legendY": 95, "columns": 2, "columnPadding": 2, "rowPadding": 1, "labelFontSize": 10.5}}}},
            {"data": {"values": [{}]}, "mark": {"type": "text", "text": "C", "fontSize": 30, "color": "#111"}, "encoding": {"x": {"datum": 0.25}, "y": {"datum": 4.12}}}
          ]
        },
        {
          "layer": [
            {"data": {"name": "Cl"}, "mark": {"type": "line", "interpolate": "monotone", "strokeWidth": 1.6},
             "encoding": {"x": {"field": "x", "type": "quantitative"},
               "y": {"field": "y", "type": "quantitative", "scale": {"domain": [-5.44, 120.2], "nice": false, "zero": false}, "axis": {"orient": "left", "values": [0,10,20,30,40,50], "format": "d", "title": "H₂O₂ yield (%)", "titleAnchor": "start"}},
               "color": {"field": "s", "type": "nominal", "scale": {"domain": ["Feᶻⁿ/CNP (1)", "Fe/CNP (2)", "Feᶻⁿ/CN (3)", "Pt/C"], "range": ["#2fc62f", "#f7873f", "#7b3fe4", "#111111"]}, "legend": {"title": null, "orient": "none", "legendX": 9, "legendY": 95, "columns": 2, "columnPadding": 2, "rowPadding": 1, "labelFontSize": 10.5}}}}
          ]
        }
      ],
      "resolve": {"scale": {"y": "independent"}}
    },
    {
      "width": 207, "height": 195,
      "layer": [
        {"data": {"name": "D"}, "mark": {"type": "line", "strokeWidth": 1.5, "point": {"filled": false, "fill": "white", "size": 35, "strokeWidth": 1.5, "opacity": 1}},
         "encoding": {
           "x": {"field": "x", "type": "quantitative", "scale": {"domain": [0.0499, 0.1407], "nice": false, "zero": false}, "axis": {"values": [0.06,0.08,0.1,0.12], "format": ".2f", "title": "ω⁻¹/²(s¹/²rad⁻¹/²)"}},
           "y": {"field": "y", "type": "quantitative", "scale": {"domain": [0.0982, 0.2912], "nice": false, "zero": false}, "axis": {"values": [0.12,0.16,0.2,0.24,0.28], "format": ".2f", "title": "J⁻¹(mA⁻¹ cm²)", "titlePadding": 2}},
           "color": {"field": "s", "type": "nominal", "scale": {"range": ["#b44fb0", "#72d23a", "#2f2fae", "#8c8c8c", "#ff2d1a"]},
             "legend": {"title": null, "orient": "none", "legendX": 10, "legendY": 3, "rowPadding": 1, "symbolSize": 40, "symbolStrokeWidth": 1.5,
               "encode": {"symbols": {"update": {"shape": {"signal": "slice(datum.value,0,3)=='0.3' ? 'square' : slice(datum.value,0,3)=='0.5' ? 'triangle-up' : slice(datum.value,0,3)=='0.6' ? 'triangle-down' : 'circle'"}, "fill": {"value": "white"}, "strokeWidth": {"value": 1.5}}}}}},
           "shape": {"field": "s", "type": "nominal", "scale": {"range": ["square", "circle", "triangle-up", "triangle-down", "circle"]}, "legend": null}}},
        {"data": {"values": [{}]}, "mark": {"type": "text", "text": "Feᶻⁿ/CNP (1)", "fontSize": 12, "color": "#111"}, "encoding": {"x": {"datum": 0.0951}, "y": {"datum": 0.12}}},
        {"data": {"values": [{}]}, "mark": {"type": "text", "text": "D", "fontSize": 30, "color": "#111"}, "encoding": {"x": {"datum": 0.1302}, "y": {"datum": 0.113}}}
      ]
    },
    {
      "width": 197, "height": 197,
      "layer": [
        {"data": {"values": [{}]}, "mark": {"type": "rule", "color": "#999", "strokeDash": [1.5, 2], "strokeWidth": 1},
         "encoding": {
           "x": {"datum": 10.85, "type": "quantitative", "scale": {"domain": [-0.3, 11.62], "nice": false, "zero": false}, "axis": {"values": [0,1,2,3,4,5,6,7,8,9,10,11], "format": "d", "title": "Time (h)"}},
           "y": {"datum": 0.03, "type": "quantitative", "scale": {"domain": [0, 1.024], "nice": false, "zero": false}, "axis": {"values": [0,0.1,0.2,0.3,0.4,0.5,0.6,0.7,0.8,0.9,1.0], "format": ".1f", "title": "Normalized current (%)"}},
           "y2": {"datum": 1.008}}},
        {"data": {"name": "E"}, "mark": {"type": "line", "strokeWidth": 1.6},
         "encoding": {"x": {"field": "x", "type": "quantitative"}, "y": {"field": "y", "type": "quantitative"},
           "color": {"field": "s", "type": "nominal", "scale": {"domain": ["Feᶻⁿ/CNP (1)", "Pt/C"], "range": ["#2fc62f", "#111111"]}, "legend": {"title": null, "orient": "none", "legendX": 17, "legendY": 89, "rowPadding": 12}}}},
        {"data": {"values": [{}]}, "mark": {"type": "text", "text": "92%", "fontSize": 9, "color": "#444"}, "encoding": {"x": {"datum": 10.83}, "y": {"datum": 0.847}}},
        {"data": {"values": [{}]}, "mark": {"type": "text", "text": "68%", "fontSize": 9, "color": "#444"}, "encoding": {"x": {"datum": 10.83}, "y": {"datum": 0.618}}},
        {"data": {"values": [{}]}, "mark": {"type": "text", "text": "E", "fontSize": 30, "color": "#111"}, "encoding": {"x": {"datum": 1.21}, "y": {"datum": 0.088}}}
      ]
    },
    {
      "width": 192, "height": 200,
      "layer": [
        {
          "layer": [
            {"data": {"values": [{}]}, "mark": {"type": "rect", "color": "#f6edcc"},
             "encoding": {
               "x": {"datum": -80, "type": "quantitative", "scale": {"domain": [-80, 5000], "nice": false, "zero": false}, "axis": {"orient": "top", "values": [1000,2000,3000,4000,5000], "format": "d", "labelPadding": 0, "title": null}},
               "x2": {"datum": 5000},
               "y": {"datum": 49.5, "type": "quantitative", "scale": {"domain": [-6.5, 108], "nice": false, "zero": false}, "axis": {"orient": "left", "values": [50,60,70,80,90,100], "format": "d", "title": "Normalized Current (%)", "titleAnchor": "end"}},
               "y2": {"datum": 108}}},
            {"data": {"name": "Fu"}, "mark": {"type": "line", "strokeWidth": 1.6},
             "encoding": {"x": {"field": "t", "type": "quantitative"}, "y": {"field": "y", "type": "quantitative"},
               "color": {"field": "s", "type": "nominal", "scale": {"domain": ["Feᶻⁿ/CNP (1)", "Pt/C"], "range": ["#2fc62f", "#111111"]}, "legend": {"title": null, "orient": "none", "legendX": 97, "legendY": 37, "rowPadding": 9}}}},
            {"data": {"values": [{}]}, "mark": {"type": "text", "text": "MeOH addition", "fontSize": 11, "color": "#222"}, "encoding": {"x": {"datum": 1243}, "y": {"datum": 54.8}}},
            {"data": {"values": [{}]}, "mark": {"type": "rule", "color": "#555", "strokeDash": [1.5, 1.5]}, "encoding": {"x": {"datum": 661}, "y": {"datum": 62.4}, "x2": {"datum": 975}, "y2": {"datum": 82}}},
            {"data": {"values": [{}]}, "mark": {"type": "point", "shape": "triangle-up", "filled": true, "size": 14, "angle": 18, "color": "#555", "opacity": 1}, "encoding": {"x": {"datum": 986}, "y": {"datum": 83.4}}}
          ]
        },
        {
          "layer": [
            {"data": {"name": "Fl"}, "transform": [{"filter": "indexof(datum.s, 'after') >= 0"}], "mark": {"type": "line", "interpolate": "monotone", "strokeWidth": 4.5},
             "encoding": {
               "x": {"field": "x", "type": "quantitative", "scale": {"domain": [0.25, 1.2], "nice": false, "zero": false}, "axis": {"orient": "bottom", "values": [0.4,0.6,0.8,1.0,1.2], "format": ".1f", "title": "Potential (V vs. RHE)"}},
               "y": {"field": "y", "type": "quantitative", "scale": {"domain": [-6.95, 8.0], "nice": false, "zero": false}, "axis": {"orient": "right", "values": [-6,-4,-2,0], "format": "d", "title": "J (mA cm⁻²)", "titleAnchor": "start", "titleAngle": -90, "titleBaseline": "top", "titlePadding": 2}},
               "color": {"field": "s", "type": "nominal", "scale": {"domain": ["Feᶻⁿ/CNP (1)", "Feᶻⁿ/CNP (1) after"], "range": ["#2db52d", "#a8e68a"]}, "legend": {"title": null, "orient": "none", "legendX": 20, "legendY": 125, "rowPadding": 5, "labelExpr": "replace(datum.label, ' after', '')"}}}},
            {"data": {"name": "Fl"}, "transform": [{"filter": "indexof(datum.s, 'after') < 0"}], "mark": {"type": "line", "interpolate": "monotone", "strokeWidth": 1.8},
             "encoding": {"x": {"field": "x", "type": "quantitative"}, "y": {"field": "y", "type": "quantitative"},
               "color": {"field": "s", "type": "nominal", "legend": {"title": null, "orient": "none", "legendX": 20, "legendY": 125, "rowPadding": 5, "labelExpr": "replace(datum.label, ' after', '')"}}}},
            {"data": {"values": [{}]}, "mark": {"type": "text", "text": "after 10k cycles", "fontSize": 9, "fontWeight": "bold", "align": "left", "color": "#222"}, "encoding": {"x": {"datum": 0.433}, "y": {"datum": -4.11}}},
            {"data": {"values": [{}]}, "mark": {"type": "text", "text": "F", "fontSize": 30, "color": "#111"}, "encoding": {"x": {"datum": 1.146}, "y": {"datum": -5.68}}}
          ]
        }
      ],
      "resolve": {"scale": {"x": "independent", "y": "independent", "color": "independent"}}
    }
  ],
  "columns": 3,
  "spacing": {"row": 51, "column": 41},
  "align": "each",
  "bounds": "flush",
  "resolve": {"scale": {"color": "independent", "stroke": "independent", "shape": "independent"}, "legend": {"color": "independent", "stroke": "independent", "shape": "independent"}}
}
